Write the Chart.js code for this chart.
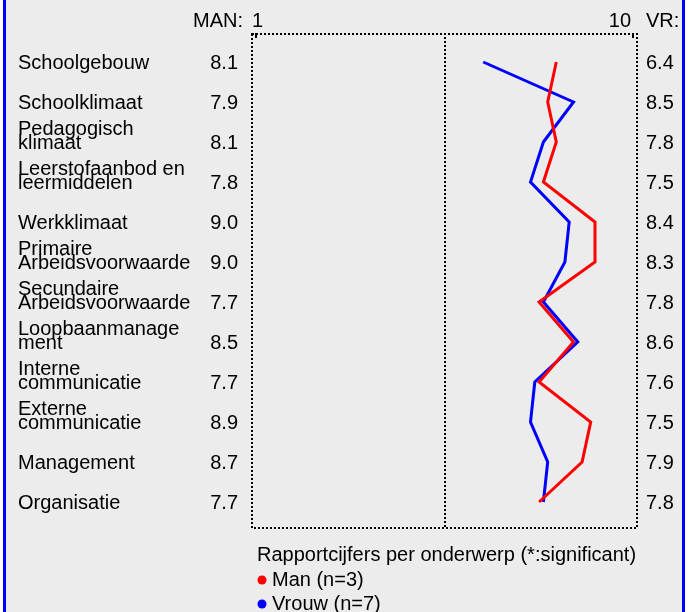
<!DOCTYPE html>
<html>
<head>
<meta charset="utf-8">
<script src="https://cdn.jsdelivr.net/npm/chart.js@4.4.1/dist/chart.umd.min.js"></script>
<style>
  html, body { margin: 0; padding: 0; background: #ffffff; }
  #wrap { width: 694px; height: 612px; }
</style>
</head>
<body>
<div id="wrap"><canvas id="profileChart" width="694" height="612"></canvas></div>
<script>
'use strict';

// onderwerpen (meerregelige labels als array)
var categories = [
    ['Schoolgebouw'],
    ['Schoolklimaat'],
    ['Pedagogisch', 'klimaat'],
    ['Leerstofaanbod en', 'leermiddelen'],
    ['Werkklimaat'],
    ['Primaire', 'Arbeidsvoorwaarde'],
    ['Secundaire', 'Arbeidsvoorwaarde'],
    ['Loopbaanmanage', 'ment'],
    ['Interne', 'communicatie'],
    ['Externe', 'communicatie'],
    ['Management'],
    ['Organisatie']
];
var manValues   = [8.1, 7.9, 8.1, 7.8, 9.0, 9.0, 7.7, 8.5, 7.7, 8.9, 8.7, 7.7];
var vrouwValues = [6.4, 8.5, 7.8, 7.5, 8.4, 8.3, 7.8, 8.6, 7.6, 7.5, 7.9, 7.8];
var scaleTicks  = [1, 10];
var seriesNames = ['Man (n=3)', 'Vrouw (n=7)'];
var titleText   = 'Rapportcijfers per onderwerp (*:significant)';

var RED = '#ff0000', BLUE = '#0000ff';
var FONT = '20px "Liberation Sans", Arial, sans-serif';

function toPoints(values) {
    return values.map(function (v, i) { return { x: v, y: i }; });
}

var frame = {
    id: 'frame',
    beforeDraw: function (chart) {
        var ctx = chart.ctx;
        ctx.save();
        ctx.fillStyle = '#ffffff';
        ctx.fillRect(0, 0, chart.width, chart.height);
        ctx.fillStyle = '#ececec';
        ctx.fillRect(3, 0, 682, chart.height);
        ctx.fillStyle = BLUE;
        ctx.fillRect(3, 0, 3, chart.height);
        ctx.fillRect(682, 0, 3, chart.height);

        var a = chart.chartArea;
        var xs = chart.scales.x;
        ctx.strokeStyle = '#000000';
        ctx.lineWidth = 2;
        ctx.setLineDash([2, 2]);
        ctx.strokeRect(a.left + 1, a.top + 1, a.right - a.left - 2, a.bottom - a.top - 2);
        var mid = Math.round(xs.getPixelForValue((scaleTicks[0] + scaleTicks[1]) / 2));
        ctx.beginPath();
        ctx.moveTo(mid, a.top);
        ctx.lineTo(mid, a.bottom);
        ctx.stroke();
        ctx.setLineDash([]);
        // kleine streepjes bij 1 en 10
        ctx.fillStyle = '#000000';
        ctx.fillRect(a.left + 4, a.top, 2, 5);
        ctx.fillRect(a.right - 6, a.top, 2, 5);
        ctx.restore();
    },
    afterDraw: function (chart) {
        var ctx = chart.ctx;
        var a = chart.chartArea;
        var xs = chart.scales.x, ys = chart.scales.y;
        ctx.save();
        ctx.font = FONT;
        ctx.fillStyle = '#000000';
        ctx.textBaseline = 'middle';

        // kop
        ctx.textAlign = 'right';
        ctx.fillText('MAN:', 243, 21);
        ctx.textAlign = 'left';
        ctx.fillText(String(scaleTicks[0]), xs.getPixelForValue(scaleTicks[0]) + 1, 21);
        ctx.textAlign = 'right';
        ctx.fillText(String(scaleTicks[1]), xs.getPixelForValue(scaleTicks[1]) - 7, 21);
        ctx.textAlign = 'left';
        ctx.fillText('VR:', 646, 21);

        categories.forEach(function (lines, i) {
            var y = ys.getPixelForValue(i) + 1.5;
            ctx.textAlign = 'left';
            for (var k = 0; k < lines.length; k++) {
                ctx.fillText(lines[k], 18, y - (lines.length - 1 - k) * 14);
            }
            ctx.textAlign = 'right';
            ctx.fillText(manValues[i].toFixed(1), 238, y);
            ctx.textAlign = 'left';
            ctx.fillText(vrouwValues[i].toFixed(1), 646, y);
        });

        // legenda
        ctx.textAlign = 'left';
        ctx.fillText(titleText, 257, a.bottom + 26);
        var colors = [RED, BLUE];
        seriesNames.forEach(function (name, i) {
            var y = a.bottom + 51 + i * 24;
            ctx.fillStyle = colors[i];
            ctx.beginPath();
            ctx.arc(262, y, 4.5, 0, Math.PI * 2);
            ctx.fill();
            ctx.fillStyle = '#000000';
            ctx.fillText(name, 272, y);
        });
        ctx.restore();
    }
};

var chart = new Chart(document.getElementById('profileChart'), {
    type: 'scatter',
    data: {
        datasets: [
            {
                label: seriesNames[0],
                data: toPoints(manValues),
                showLine: true,
                borderColor: RED,
                borderWidth: 3,
                pointRadius: 0,
                tension: 0
            },
            {
                label: seriesNames[1],
                data: toPoints(vrouwValues),
                showLine: true,
                borderColor: BLUE,
                borderWidth: 3,
                pointRadius: 0,
                tension: 0
            }
        ]
    },
    options: {
        responsive: false,
        animation: false,
        layout: { padding: { left: 251, right: 56, top: 33, bottom: 83 } },
        plugins: {
            legend: { display: false },
            tooltip: { enabled: false }
        },
        scales: {
            x: { type: 'linear', min: 1, max: 10, display: false },
            y: { type: 'linear', min: -0.725, max: 11.675, reverse: true, display: false }
        }
    },
    plugins: [frame]
});
</script>
</body>
</html>
